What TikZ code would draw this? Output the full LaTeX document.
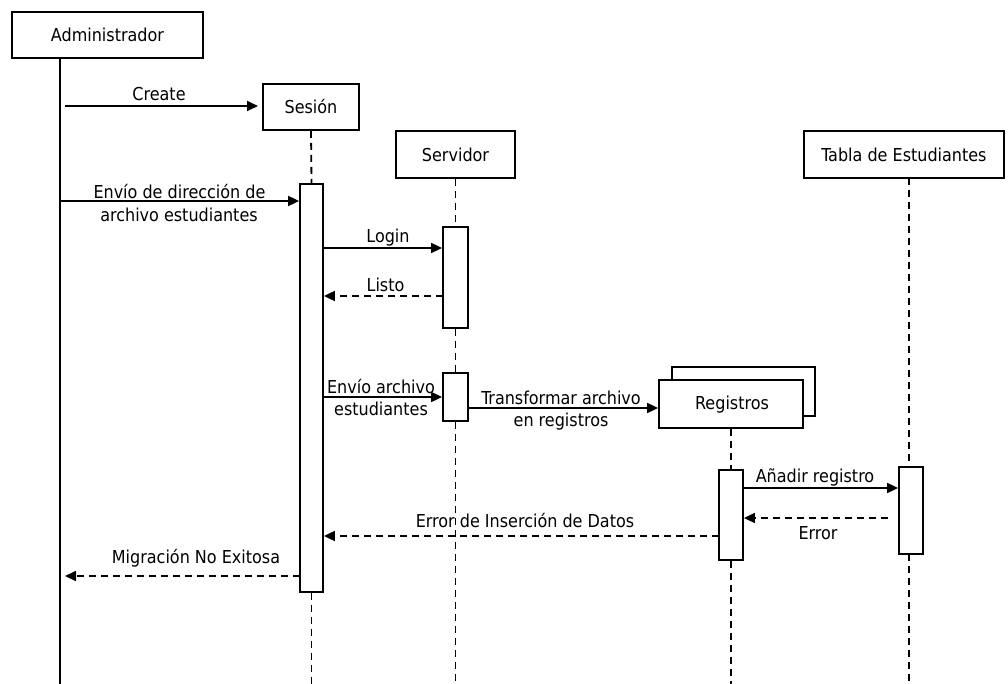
\documentclass[tikz,border=0pt]{standalone}
\usepackage{fontspec}
\setmainfont{DejaVu Sans Condensed}
\usetikzlibrary{arrows.meta}
\begin{document}
\begin{tikzpicture}[x=1pt,y=-1pt,
  every node/.style={font=\fontsize{17.8}{21}\selectfont},
  obj/.style={draw,line width=1.8pt,fill=white,inner sep=0pt},
  act/.style={draw,line width=1.8pt,fill=white,inner sep=0pt},
  life/.style={line width=1.8pt,dash pattern=on 7pt off 5pt},
  msg/.style={line width=1.8pt,-{Triangle[length=11pt,width=10pt]}},
  ret/.style={line width=1.8pt,dash pattern=on 7pt off 5pt,-{Triangle[length=11pt,width=10pt]}},
  lbl/.style={anchor=base,inner sep=0pt}]
\useasboundingbox (0,0) rectangle (1008,684);
% objects
\node[obj,minimum width=191pt,minimum height=46pt] (adm) at (107.5,35) {Administrador};
\node[obj,minimum width=96pt,minimum height=46pt] (ses) at (311,107) {Sesión};
\node[obj,minimum width=119pt,minimum height=47pt] (srv) at (455.5,154.5) {Servidor};
\node[obj,minimum width=200pt,minimum height=47pt] (tab) at (904,154.5) {Tabla de Estudiantes};
\node[obj,minimum width=143pt,minimum height=49pt] (regb) at (743.5,391.5) {};
\node[obj,minimum width=144pt,minimum height=48pt] (reg) at (731,404) {};
\node[lbl] (regt) at (732,409) {Registros};
% activations
\node[act,minimum width=23pt,minimum height=408pt] (aS) at (311.5,388) {};
\node[act,minimum width=25pt,minimum height=101pt] (aV1) at (455.5,277.5) {};
\node[act,minimum width=25pt,minimum height=48pt] (aV2) at (455.5,397) {};
\node[act,minimum width=24pt,minimum height=90pt] (aR) at (731,515) {};
\node[act,minimum width=24pt,minimum height=87pt] (aT) at (911,510.5) {};
% lifelines
\coordinate (admTop) at (60,58);
\coordinate (admEnd) at (60,684);
\draw[line width=1.8pt] (admTop) -- (admEnd);
\draw[life] (ses.south) -- (aS.north);
\draw[life] (aS.south) -- (311.5,684);
\draw[life] (srv.south) -- (aV1.north);
\draw[life] (aV1.south) -- (aV2.north);
\draw[life] (aV2.south) -- (455.5,684);
\draw[life] (reg.south) -- (aR.north);
\draw[life] (aR.south) -- (731,684);
\draw[life] (909,178) -- (909,467);
\draw[life] (909,554) -- (909,684);
% messages
\coordinate (c1) at (65,106);
\coordinate (c1e) at (258,106);
\draw[msg] (c1) -- (c1e);
\node[lbl] at (159,101) {Create};
\coordinate (c2) at (60,201);
\draw[msg] (c2) -- (aS.west |- c2);
\node[lbl] at (179.5,199) {Envío de dirección de};
\node[lbl] at (179,222) {archivo estudiantes};
\coordinate (c3) at (323,248);
\draw[msg] (c3) -- (aV1.west |- c3);
\node[lbl] at (388,243) {Login};
\coordinate (c4) at (443,296);
\draw[ret] (c4) -- (aS.east |- c4);
\node[lbl] at (385.5,291) {Listo};
\coordinate (c5) at (323,397);
\draw[msg] (c5) -- (aV2.west |- c5);
\node[lbl] at (381,393) {Envío archivo};
\node[lbl] at (381,415) {estudiantes};
\coordinate (c6) at (468,408);
\draw[msg] (c6) -- (reg.west |- c6);
\node[lbl] at (561,404) {Transformar archivo};
\node[lbl] at (561,426) {en registros};
\coordinate (c7) at (743,488);
\draw[msg] (c7) -- (aT.west |- c7);
\node[lbl] at (815,482) {Añadir registro};
\coordinate (c8) at (888,518);
\draw[ret] (c8) -- (aR.east |- c8);
\node[lbl] at (818,539) {Error};
\coordinate (c9) at (719,536);
\draw[ret] (c9) -- (aS.east |- c9);
\node[lbl] at (525,527) {Error de Inserción de Datos};
\coordinate (c10) at (300,576);
\coordinate (c10e) at (65,576);
\draw[ret] (c10) -- (c10e);
\node[lbl] at (196,563) {Migración No Exitosa};
\end{tikzpicture}
\end{document}
